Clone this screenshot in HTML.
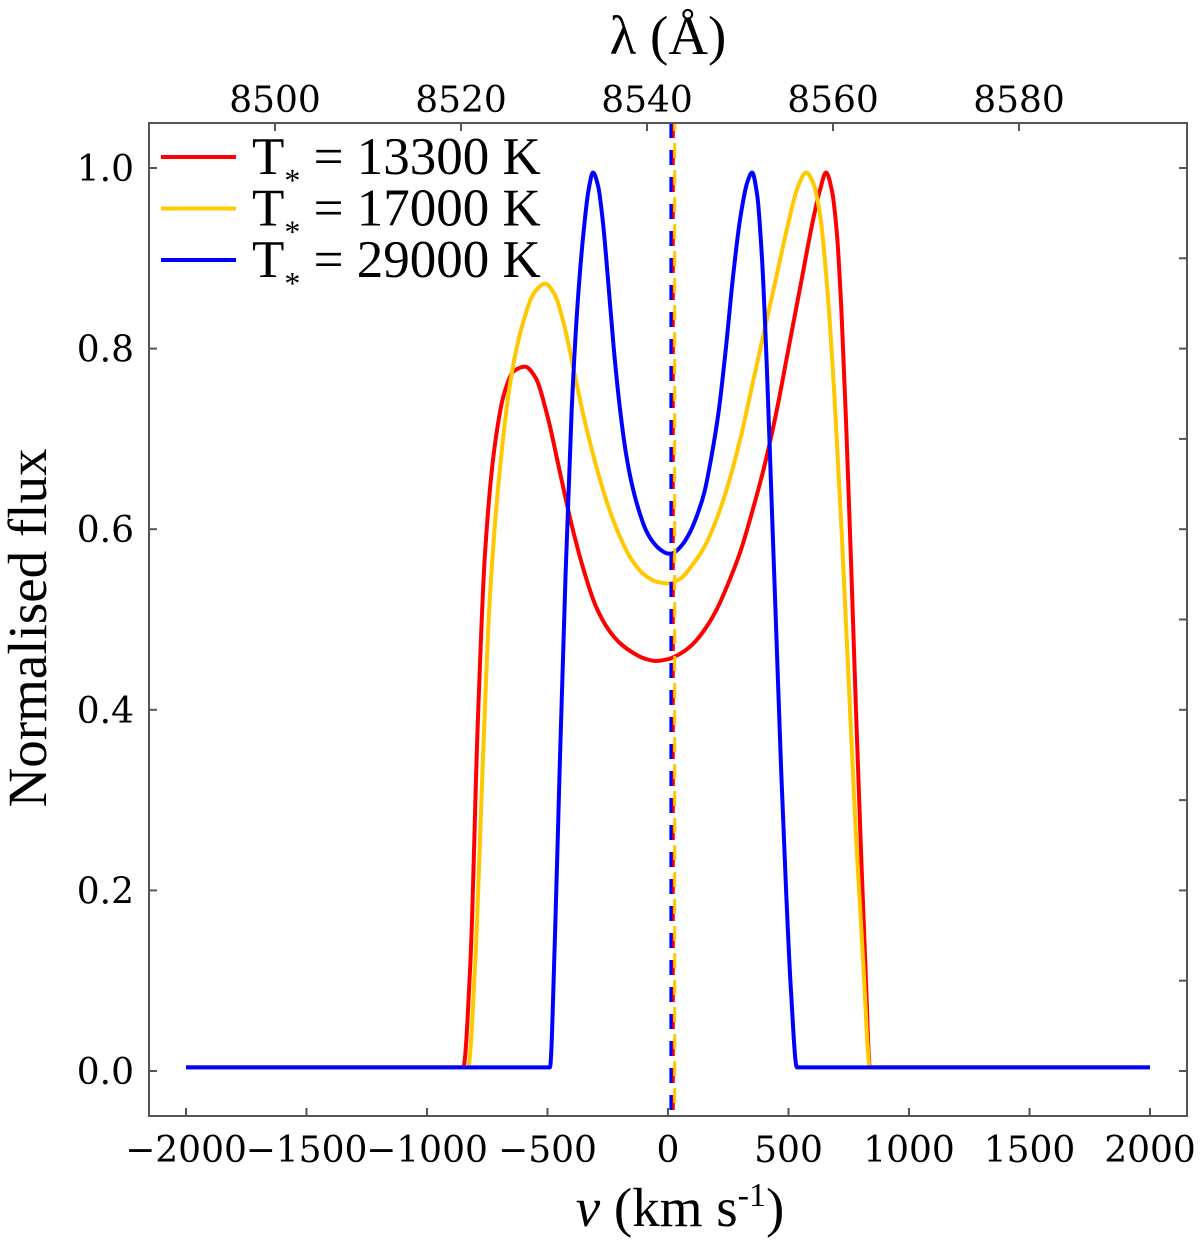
<!DOCTYPE html>
<html><head><meta charset="utf-8"><style>
body{margin:0;background:#fff}
svg text{fill:#000}
.tk{font-family:"DejaVu Serif","Liberation Serif",serif;font-size:36px}
.lab{font-family:"Liberation Serif",serif;font-size:55px}
.leg{font-family:"Liberation Serif",serif;font-size:53px}
</style></head><body>
<svg id="chart" width="1200" height="1244" viewBox="0 0 1200 1244" xmlns="http://www.w3.org/2000/svg">
<g id="axes"></g>
<g id="series"></g>
<rect x="149" y="123" width="1038" height="993" fill="none" stroke="#555" stroke-width="2"/>
<text class="lab" x="680" y="1226" text-anchor="middle"><tspan font-style="italic">v</tspan> (km s<tspan font-size="34" dy="-20">-1</tspan><tspan dy="20">)</tspan></text>
<text class="lab" x="668" y="54" text-anchor="middle">λ (Å)</text>
<text class="lab" transform="translate(46,628) rotate(-90)" text-anchor="middle">Normalised flux</text>
<g id="legend"></g>
</svg>
<script>
const vRed=[-2000,-850,-820,-790,-760,-720,-680,-640,-593,-550,-500,-450,-400,-350,-300,-250,-200,-150,-100,-50,0,50,100,150,200,250,300,350,400,450,500,550,600,630,656,680,700,720,740,760,780,800,820,838,2000];
const fRed=[0.004,0.004,0.12,0.38,0.57,0.69,0.75,0.775,0.78,0.768,0.725,0.665,0.605,0.555,0.515,0.49,0.474,0.464,0.457,0.454,0.456,0.462,0.472,0.488,0.51,0.54,0.575,0.62,0.67,0.73,0.8,0.87,0.94,0.975,0.995,0.975,0.93,0.84,0.71,0.56,0.4,0.25,0.11,0.004,0.004];
const vYel=[-2000,-830,-800,-770,-740,-700,-650,-600,-555,-510,-470,-430,-390,-350,-300,-250,-200,-150,-100,-50,0,50,100,150,200,250,300,350,400,450,500,540,573,600,630,660,690,720,750,780,810,838,2000];
const fYel=[0.004,0.004,0.12,0.33,0.52,0.66,0.77,0.83,0.862,0.872,0.86,0.825,0.775,0.725,0.672,0.627,0.592,0.566,0.55,0.542,0.54,0.545,0.56,0.58,0.61,0.65,0.7,0.76,0.82,0.88,0.94,0.98,0.995,0.985,0.95,0.87,0.75,0.6,0.43,0.26,0.12,0.004,0.004];
const vBlu=[-2000,-490,-470,-450,-425,-400,-375,-350,-330,-311,-290,-270,-250,-225,-200,-175,-150,-120,-90,-60,-30,0,15,30,60,90,120,150,180,210,240,270,300,330,349,370,390,410,430,450,470,490,510,535,2000];
const fBlu=[0.004,0.004,0.14,0.33,0.55,0.73,0.85,0.93,0.975,0.995,0.98,0.94,0.88,0.8,0.735,0.685,0.65,0.62,0.598,0.585,0.577,0.573,0.573,0.575,0.583,0.596,0.615,0.64,0.68,0.73,0.8,0.88,0.945,0.985,0.995,0.97,0.9,0.78,0.63,0.48,0.33,0.2,0.09,0.004,0.004];
const xTicks=[-2000,-1500,-1000,-500,0,500,1000,1500,2000];
const xTickLabels=["\u22122000","\u22121500","\u22121000","\u2212500","0","500","1000","1500","2000"];
const yTicks=[0,0.2,0.4,0.6,0.8,1.0];
const yTickLabels=["0.0","0.2","0.4","0.6","0.8","1.0"];
const lamTicks=[8500,8520,8540,8560,8580];
const seriesNames=["T13300","T17000","T29000"];
const legendLabels=["13300","17000","29000"];
const centers=[22,28,12];
const NS="http://www.w3.org/2000/svg";
const X=v=>668+v*0.241;
const Y=f=>1071-f*903;
const L=l=>275+(l-8500)*9.3;
const axes=document.getElementById('axes'),ser=document.getElementById('series'),leg=document.getElementById('legend');
function mk(tag,attrs,parent){const e=document.createElementNS(NS,tag);for(const k in attrs)e.setAttribute(k,attrs[k]);parent.appendChild(e);return e;}
xTicks.forEach((t,i)=>{
 const l=mk('line',{x1:X(t),x2:X(t),y1:1116,y2:1108,stroke:'#555','stroke-width':2},axes);
 
 
 const tx=mk('text',{x:X(t),y:1162,'text-anchor':'middle',class:'tk'},axes);tx.textContent=xTickLabels[i];
 
 
});
yTicks.forEach((t,i)=>{
 const l=mk('line',{x1:149,x2:157,y1:Y(t),y2:Y(t),stroke:'#555','stroke-width':2},axes);
 
 
 const tx=mk('text',{x:134,y:Y(t)+13,'text-anchor':'end',class:'tk'},axes);tx.textContent=yTickLabels[i];
 
 
});
for(let k=0;k<=10;k++){const f=k/10;
 const l=mk('line',{x1:1179,x2:1187,y1:Y(f),y2:Y(f),stroke:'#555','stroke-width':2},axes);
 
 
}
lamTicks.forEach(t=>{
 const l=mk('line',{x1:L(t),x2:L(t),y1:123,y2:131,stroke:'#555','stroke-width':2},axes);
 
 
 const tx=mk('text',{x:L(t),y:112,'text-anchor':'middle',class:'tk'},axes);tx.textContent=String(t);
 
 
});
function path(vs,fs){
 const x=vs.map(X),y=fs.map(Y),n=x.length;
 const d=[],m=new Array(n);
 for(let i=0;i<n-1;i++)d.push((y[i+1]-y[i])/(x[i+1]-x[i]));
 m[0]=d[0];m[n-1]=d[n-2];
 for(let i=1;i<n-1;i++){ if(d[i-1]*d[i]<=0)m[i]=0; else { const h0=x[i]-x[i-1],h1=x[i+1]-x[i]; const w1=2*h1+h0,w2=h1+2*h0; m[i]=(w1+w2)/(w1/d[i-1]+w2/d[i]); } }
 let s='M'+x[0]+','+y[0];
 for(let i=0;i<n-1;i++){const h=x[i+1]-x[i];
  s+=' C'+(x[i]+h/3)+','+(y[i]+m[i]*h/3)+' '+(x[i+1]-h/3)+','+(y[i+1]-m[i+1]*h/3)+' '+x[i+1]+','+y[i+1];}
 return s;}
const cols=['#ff0000','#ffc800','#0000ff'];
const data=[[vRed,fRed],[vYel,fYel],[vBlu,fBlu]];
data.forEach((s,i)=>{
 const p=mk('path',{d:path(s[0],s[1]),fill:'none',stroke:cols[i],'stroke-width':4,'stroke-linejoin':'round'},ser);
 
 
});
[0,1,2].forEach(i=>{
 const l=mk('line',{x1:X(centers[i]),x2:X(centers[i]),y1:123,y2:1116,stroke:cols[i],'stroke-width':3,'stroke-dasharray':'15 12','stroke-dashoffset':i==1?7:0},ser);
 
 
});
legendLabels.forEach((t,i)=>{
 const y=157+i*51.5;
 const l=mk('line',{x1:161,x2:236,y1:y,y2:y,stroke:cols[i],'stroke-width':4},leg);
 
 
 const tx=mk('text',{x:252,y:y+17,class:'leg'},leg);
 tx.innerHTML='T<tspan font-size="32" dy="17">*</tspan><tspan dy="-17"> = '+t+' K</tspan>';
 
 
});
</script>
</body></html>
